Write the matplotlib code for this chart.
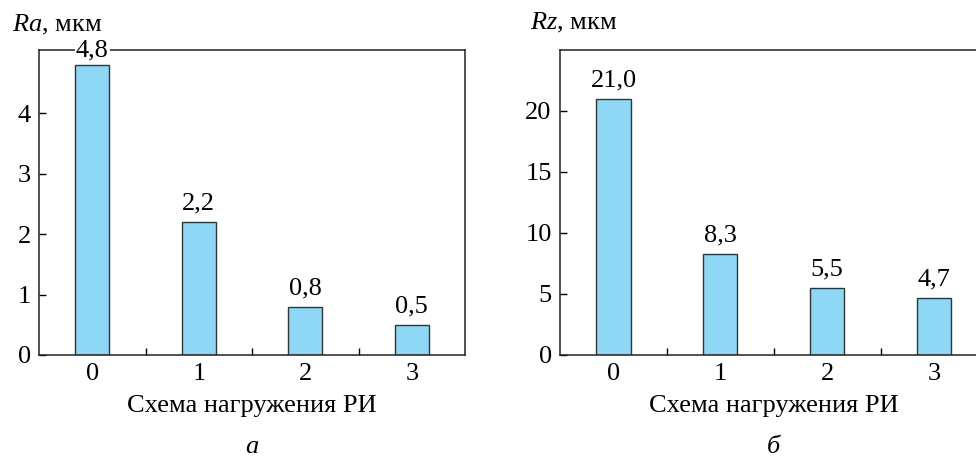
import matplotlib.pyplot as plt
import numpy as np

plt.rcParams['font.family'] = ['Liberation Serif', 'DejaVu Serif']
plt.rcParams['font.size'] = 19
plt.rcParams['mathtext.fontset'] = 'custom'
plt.rcParams['mathtext.it'] = 'Liberation Serif:italic'
plt.rcParams['mathtext.rm'] = 'Liberation Serif'

# данные
schemes = [0, 1, 2, 3]
ra_values = [4.8, 2.2, 0.8, 0.5]
rz_values = [21.0, 8.3, 5.5, 4.7]
ra_ticks = [0, 1, 2, 3, 4]
rz_ticks = [0, 5, 10, 15, 20]

bar_color = '#8ED8F6'
edge_color = '#333333'

fig = plt.figure(figsize=(9.76, 4.57), dpi=100)
ax1 = fig.add_axes([0.040, 0.2232, 0.4365, 0.6674])
ax2 = fig.add_axes([0.5738, 0.2232, 0.438, 0.6674])


def draw_panel(ax, values, yticks, ymax):
    x = np.arange(len(schemes))
    ax.bar(x, values, width=0.32, color=bar_color, edgecolor=edge_color, linewidth=1.0, zorder=2)
    ax.set_xlim(-0.5, 3.5)
    ax.set_ylim(0, ymax)
    ax.set_xticks(x)
    ax.set_xticklabels([str(s) for s in schemes])
    ax.set_xticks([0.5, 1.5, 2.5], minor=True)
    ax.set_yticks(yticks)
    ax.tick_params(axis='x', which='major', length=0, pad=6)
    ax.tick_params(axis='x', which='minor', direction='in', length=5, width=1)
    ax.tick_params(axis='y', direction='in', length=5, width=1, pad=6)
    for s in ax.spines.values():
        s.set_linewidth(1.1)
        s.set_color('#222222')
    ax.set_xlabel('Схема нагружения РИ', labelpad=7)
    # подписи значений
    for xi, v in zip(x, values):
        txt = f'{v:.1f}'.replace('.', ',')
        y = v + ymax * 0.025
        kw = {}
        if v > ymax * 0.9:
            y = v + ymax * 0.012
            kw['bbox'] = dict(facecolor='white', edgecolor='none', pad=0.5)
        ax.text(xi, y, txt, ha='center', va='bottom', zorder=5, clip_on=False, **kw)


draw_panel(ax1, ra_values, ra_ticks, 5.05)
draw_panel(ax2, rz_values, rz_ticks, 25.0)

fig.text(12 / 976, 1 - 31 / 457, r'$Ra$, мкм', ha='left', va='baseline')
fig.text(530 / 976, 1 - 29 / 457, r'$Rz$, мкм', ha='left', va='baseline')
fig.text(252 / 976, 1 - 453 / 457, 'а', ha='center', va='baseline', style='italic')
fig.text(773 / 976, 1 - 453 / 457, 'б', ha='center', va='baseline', style='italic')

fig.savefig('out.png', dpi=100)
